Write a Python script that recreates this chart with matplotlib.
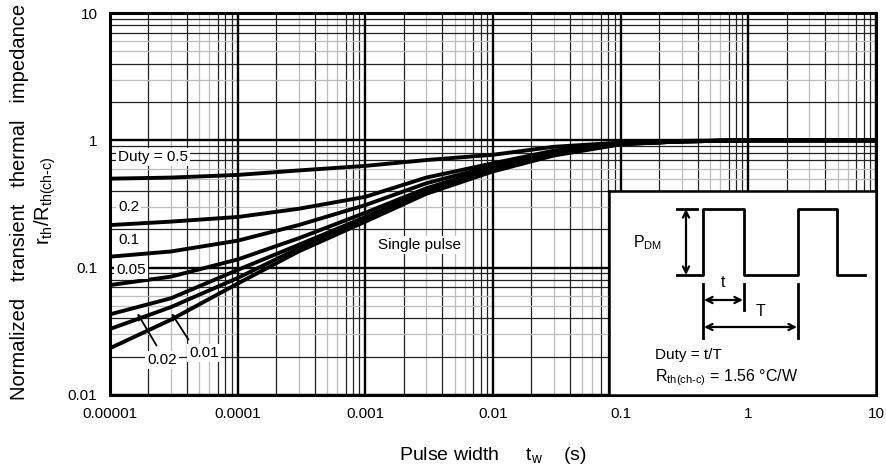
import numpy as np
import matplotlib
matplotlib.use("Agg")
import matplotlib.pyplot as plt
from matplotlib.ticker import FixedLocator, NullFormatter

plt.rcParams['font.family'] = ['Liberation Sans', 'DejaVu Sans']
plt.rcParams['mathtext.fontset'] = 'custom'
plt.rcParams['mathtext.rm'] = 'Liberation Sans'
plt.rcParams['mathtext.it'] = 'Liberation Sans'

# pulse width (s) and normalized r_th for each duty
tw = [1e-5, 3e-5, 1e-4, 3e-4, 1e-3, 3e-3, 1e-2, 3e-2, 1e-1, 3e-1, 1, 10]
duty_05 = [0.50, 0.51, 0.535, 0.58, 0.63, 0.70, 0.77, 0.89, 0.96, 0.99, 1.0, 1.0]
duty_02 = [0.216, 0.23, 0.25, 0.29, 0.36, 0.51, 0.66, 0.83, 0.95, 0.985, 1.0, 1.0]
duty_01 = [0.122, 0.134, 0.163, 0.216, 0.31, 0.46, 0.63, 0.81, 0.945, 0.98, 1.0, 1.0]
duty_005 = [0.073, 0.085, 0.116, 0.17, 0.27, 0.42, 0.61, 0.79, 0.94, 0.98, 1.0, 1.0]
duty_002 = [0.043, 0.0575, 0.096, 0.151, 0.25, 0.40, 0.59, 0.78, 0.94, 0.98, 1.0, 1.0]
duty_001 = [0.033, 0.049, 0.083, 0.142, 0.24, 0.39, 0.58, 0.77, 0.935, 0.98, 1.0, 1.0]
single = [0.0233, 0.039, 0.075, 0.134, 0.23, 0.38, 0.57, 0.76, 0.93, 0.98, 1.0, 1.0]

xticks = [1e-5, 1e-4, 1e-3, 1e-2, 1e-1, 1, 10]
xticklabels = ["0.00001", "0.0001", "0.001", "0.01", "0.1", "1", "10"]
yticks = [0.01, 0.1, 1, 10]
yticklabels = ["0.01", "0.1", "1", "10"]

W, H = 887, 472
L, R, T, B = 110, 876, 13, 395   # axes box in pixels

fig = plt.figure(figsize=(W / 100, H / 100), dpi=100)
ax = fig.add_axes([L / W, (H - B) / H, (R - L) / W, (B - T) / H])
ax.set_xscale("log")
ax.set_yscale("log")
ax.set_xlim(1e-5, 10)
ax.set_ylim(0.01, 10)

ax.xaxis.set_major_locator(FixedLocator(xticks))
ax.yaxis.set_major_locator(FixedLocator(yticks))
ax.set_xticklabels(xticklabels)
ax.set_yticklabels(yticklabels)
ax.xaxis.set_minor_formatter(NullFormatter())
ax.yaxis.set_minor_formatter(NullFormatter())
ax.tick_params(which="both", length=0, labelsize=11)
ax.tick_params(axis="x", pad=9)
ax.tick_params(axis="y", pad=9)

# scanned-look grid: most minor lines dark, a few light grey
dark = [2, 4, 7, 8, 9]
light = [3, 5, 6]
for deco in xticks[:-1]:
    for m in dark:
        ax.axvline(m * deco, color="#222222", lw=0.9, zorder=1)
    for m in light:
        ax.axvline(m * deco, color="#bdbdbd", lw=0.9, zorder=1)
for deco in yticks[:-1]:
    for m in dark:
        ax.axhline(m * deco, color="#222222", lw=0.9, zorder=1)
    for m in light:
        ax.axhline(m * deco, color="#bdbdbd", lw=0.9, zorder=1)
for v in xticks:
    ax.axvline(v, color="black", lw=1.7, zorder=1.5)
for v in yticks:
    ax.axhline(v, color="black", lw=1.7, zorder=1.5)
for s in ax.spines.values():
    s.set_linewidth(2.2)

for ys in [duty_05, duty_02, duty_01, duty_005, duty_002, duty_001, single]:
    ax.plot(tw, ys, color="black", lw=2.8, solid_capstyle="butt", zorder=3)


def pxa(x, y):
    return ((x - L) / (R - L), (B - y) / (B - T))


box = dict(facecolor="white", edgecolor="none", pad=1.5)
labels = [("Duty = 0.5", 118, 157), ("0.2", 118, 207), ("0.1", 118, 240),
          ("0.05", 116, 270), ("0.02", 147, 360), ("0.01", 189, 353),
          ("Single pulse", 378, 245)]
for txt, x, y in labels:
    ax.text(*pxa(x, y), txt, transform=ax.transAxes, ha="left", va="center",
            fontsize=11, bbox=box, zorder=5)

for (x0, y0), (x1, y1) in [((158, 348), (136, 311)), ((190, 342), (170, 311))]:
    ax.annotate("", xy=pxa(x1, y1), xycoords="axes fraction",
                xytext=pxa(x0, y0), textcoords="axes fraction",
                arrowprops=dict(arrowstyle="->", color="black", lw=1.3,
                                mutation_scale=9), zorder=6)

# inset with pulse diagram, drawn in image pixel units
IL, IT = 609, 191
ins = fig.add_axes([IL / W, (H - B) / H, (R - IL) / W, (B - IT) / H], zorder=10)
ins.set_xlim(IL, R)
ins.set_ylim(B, IT)
ins.set_xticks([])
ins.set_yticks([])
ins.set_facecolor("white")
for s in ins.spines.values():
    s.set_linewidth(1.8)

k = dict(color="black", lw=2)
ins.plot([677, 703, 703, 744, 744, 798, 798, 837, 837, 865],
         [275, 275, 209, 209, 275, 275, 209, 209, 275, 275], **k)
ins.plot([677, 697], [209, 209], **k)
ins.plot([703, 703], [284, 338], **k)
ins.plot([744, 744], [284, 310], **k)
ins.plot([798, 798], [284, 338], **k)
arr = dict(arrowstyle="<->", color="black", lw=1.6, mutation_scale=11,
           shrinkA=0, shrinkB=0)
ins.annotate("", xy=(686, 209), xytext=(686, 275), arrowprops=arr)
ins.annotate("", xy=(704, 300), xytext=(743, 300), arrowprops=arr)
ins.annotate("", xy=(704, 327), xytext=(797, 327), arrowprops=arr)
ins.text(633, 243, "P$_{\\mathregular{DM}}$", fontsize=11.5, va="center")
ins.text(723, 283, "t", fontsize=11.5, ha="center", va="center")
ins.text(761, 312, "T", fontsize=11.5, ha="center", va="center")
ins.text(655, 355, "Duty = t/T", fontsize=11, va="center")
ins.text(655, 378, "R$_{\\mathregular{th(ch\u2010c)}}$ = 1.56 \u00b0C/W", fontsize=11.5,
         va="center")

fig.text(20 / W, 1 - 202 / H, "Normalized   transient   thermal   impedance",
         rotation=90, ha="center", va="center", fontsize=14.5)
fig.text(45 / W, 1 - 201 / H, "r$_{\\mathregular{th}}$/R$_{\\mathregular{th(ch\u2010c)}}$",
         rotation=90, ha="center", va="center", fontsize=14.5)
fig.text(493 / W, 1 - 455 / H, "Pulse width     t$_{\\mathregular{w}}$    (s)",
         ha="center", va="center", fontsize=14)

fig.savefig("out.png", dpi=100, facecolor="white")
